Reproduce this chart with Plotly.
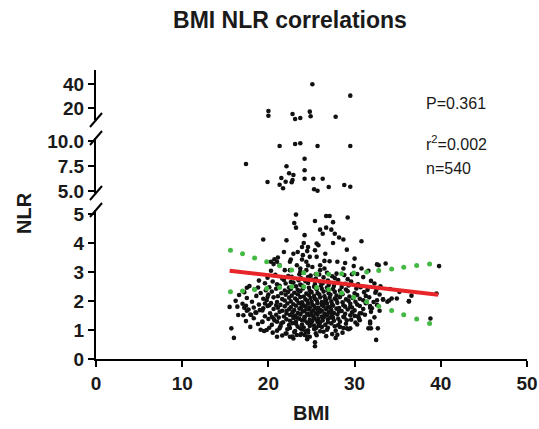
import plotly.graph_objects as go

# ---------------- data ----------------
# points in the upper broken segments (NLR > 5)
bmi_high = [25.1, 29.5, 20.0, 20.0, 22.8, 23.1, 23.7, 24.8, 24.9, 27.8,
            21.3, 23.1, 23.7, 25.7, 29.5, 17.4, 24.2, 22.1, 24.2, 22.4,
            22.9, 21.5, 24.2, 25.2, 26.3, 19.9, 22.0, 22.8, 22.7, 21.3,
            21.7, 25.3, 25.7, 27.0, 28.8, 29.5]
nlr_high = [40.2, 30.5, 17.4, 13.4, 14.9, 10.6, 11.5, 16.9, 13.0, 12.6,
            9.5, 9.7, 9.77, 9.5, 9.5, 7.7, 8.23, 7.47, 7.07, 6.77,
            6.6, 6.3, 6.23, 6.23, 6.23, 5.9, 5.93, 6.1, 5.87, 5.63,
            5.27, 5.17, 5.03, 5.4, 5.6, 5.43]

# scattered points around the main cloud (NLR <= 5)
bmi_outer = [23.2, 26.7, 27.1, 29.2, 25.4, 23.0, 27.5, 23.2, 26.7, 26.0,
             27.3, 26.3, 27.7, 24.2, 19.4, 22.1, 28.2, 28.7, 30.8, 27.5,
             24.1, 25.6, 25.8, 24.6, 23.9, 29.1, 25.4, 24.5, 21.8, 22.9,
             23.4, 26.6, 24.0, 24.8, 25.6, 30.0, 28.0, 26.5, 27.1, 24.4,
             28.9, 23.9, 22.6, 20.7, 21.0, 20.3, 21.1, 22.5, 26.0, 25.1,
             29.9, 32.8, 32.6, 33.6, 39.8, 21.3, 23.3, 20.6, 24.6, 24.4,
             24.1, 26.0, 30.8, 31.6, 28.7, 26.5, 21.9, 22.5, 23.7, 20.3,
             26.8, 25.5, 27.9, 29.7, 23.7,
             15.5, 15.7, 16.0, 16.5, 17.2, 17.5, 18.0, 19.0, 19.4, 18.6,
             20.1, 20.4, 19.3, 19.8, 21.0, 21.3, 21.0, 22.1, 22.5, 23.3,
             24.2, 24.8, 17.4, 17.9, 19.6, 19.5, 20.6, 18.8, 17.5,
             28.3, 29.1, 29.5, 31.6, 32.5, 30.6, 31.8, 30.8, 30.0, 29.5,
             32.0, 31.4, 32.6, 32.5, 39.5, 33.3, 33.8, 34.3, 36.3, 31.8,
             32.3, 31.8, 31.9, 32.7, 38.8, 25.4, 25.4]
nlr_outer = [4.99, 4.94, 4.94, 4.89, 4.77, 4.70, 4.73, 4.54, 4.54, 4.47,
             4.47, 4.33, 4.33, 4.28, 4.13, 4.10, 4.20, 4.13, 4.07, 4.01,
             4.01, 3.99, 3.93, 3.87, 3.87, 3.78, 3.76, 3.73, 3.70, 3.64,
             3.70, 3.64, 3.59, 3.53, 3.53, 3.47, 3.36, 3.39, 3.38, 3.36,
             3.32, 3.44, 3.44, 3.45, 3.36, 3.36, 3.51, 3.36, 3.24, 3.18,
             3.21, 3.24, 3.27, 3.30, 3.21, 3.24, 3.24, 3.28, 3.23, 3.07,
             2.98, 3.07, 3.13, 3.05, 3.13, 3.13, 3.07, 3.07, 3.13, 3.05,
             2.98, 2.93, 2.95, 2.93, 3.01,
             1.80, 1.06, 0.73, 1.52, 1.77, 1.67, 1.52, 1.69, 1.75, 1.60,
             1.86, 1.46, 1.29, 1.00, 1.29, 1.06, 0.77, 0.88, 0.77, 0.83,
             0.83, 0.77, 1.84, 1.54, 1.92, 0.97, 1.40, 2.47, 2.46,
             1.11, 1.06, 1.06, 1.06, 0.66, 1.34, 1.29, 1.58, 1.49, 1.80,
             1.75, 1.98, 2.03, 2.36, 2.26, 2.06, 1.98, 2.09, 2.00, 1.83,
             1.44, 1.23, 1.06, 1.06, 1.40, 0.58, 0.44]

# dense main cloud, row by row
bmi_core = [
    20.8, 22.3, 23.6, 24.9, 25.9, 27.4, 28.8, 30.3,
    19.9, 21.6, 22.7, 23.8, 24.6, 25.5, 26.4, 27.7, 29.2, 31.0,
    18.9, 20.5, 21.8, 22.6, 23.5, 24.3, 25.1, 26.0, 26.9, 28.1, 29.6, 31.9,
    19.6, 21.0, 22.0, 22.9, 23.7, 24.6, 25.4, 26.3, 27.0, 27.8, 28.9, 30.4, 32.3,
    17.8, 20.1, 21.3, 22.4, 23.2, 23.9, 24.7, 25.3, 26.1, 26.8, 27.6, 28.5, 29.3, 30.7, 33.0,
    18.4, 19.7, 20.9, 21.9, 22.6, 23.4, 24.0, 24.8, 25.6, 26.2, 26.9, 27.5, 28.3, 29.0, 30.2, 31.5, 34.1,
    17.2, 19.1, 20.4, 21.5, 22.3, 23.0, 23.7, 24.4, 25.0, 25.7, 26.4, 27.0, 27.7, 28.4, 29.2, 30.0, 31.1, 32.4, 35.2,
    16.6, 18.6, 20.0, 21.1, 22.0, 22.7, 23.4, 24.1, 24.7, 25.3, 25.9, 26.5, 27.2, 27.9, 28.6, 29.4, 30.3, 31.3, 32.9, 36.6,
    17.5, 19.4, 20.6, 21.6, 22.4, 23.1, 23.7, 24.3, 24.9, 25.4, 26.0, 26.6, 27.1, 27.7, 28.3, 29.0, 29.8, 30.6, 31.7, 33.3, 34.9, 19.9,
    16.2, 18.1, 19.8, 21.0, 21.9, 22.6, 23.3, 23.9, 24.5, 25.0, 25.6, 26.2, 26.7, 27.3, 27.9, 28.6, 29.3, 30.1, 31.0, 32.2, 34.0, 36.3,
    17.0, 18.9, 20.3, 21.4, 22.2, 22.9, 23.5, 24.1, 24.6, 25.1, 25.7, 26.2, 26.8, 27.4, 28.0, 28.7, 29.5, 30.3, 31.3, 32.6, 20.9, 23.8, 26.5,
    16.4, 18.3, 19.9, 21.1, 21.9, 22.6, 23.2, 23.8, 24.3, 24.8, 25.3, 25.8, 26.4, 26.9, 27.5, 28.2, 28.9, 29.7, 30.6, 31.8, 24.0, 25.5, 27.1,
    17.7, 19.3, 20.6, 21.6, 22.4, 23.0, 23.6, 24.2, 24.7, 25.2, 25.7, 26.2, 26.7, 27.3, 27.9, 28.5, 29.2, 30.0, 31.0, 32.9, 22.1, 24.5, 26.0,
    18.5, 20.2, 21.3, 22.1, 22.8, 23.4, 24.0, 24.5, 25.0, 25.5, 26.0, 26.5, 27.0, 27.6, 28.2, 28.9, 29.7, 30.6, 31.9, 23.7, 25.8, 27.3,
    17.1, 19.6, 20.9, 21.8, 22.5, 23.1, 23.7, 24.2, 24.7, 25.2, 25.7, 26.2, 26.8, 27.4, 28.0, 28.7, 29.5, 30.4, 31.2, 24.9, 26.5, 22.9,
    18.3, 20.0, 21.2, 22.1, 22.9, 23.6, 24.2, 24.8, 25.3, 25.8, 26.3, 26.9, 27.5, 28.1, 28.8, 29.6, 30.5, 23.3, 25.6, 27.2,
    17.4, 19.3, 20.7, 21.7, 22.5, 23.2, 23.9, 24.5, 25.1, 25.7, 26.3, 26.9, 27.6, 28.3, 29.1, 30.1, 24.2, 26.0,
    18.8, 20.4, 21.5, 22.4, 23.2, 23.9, 24.6, 25.3, 25.9, 26.6, 27.3, 28.1, 29.0, 30.3, 24.9, 22.8,
    17.9, 20.1, 21.4, 22.5, 23.4, 24.1, 24.8, 25.5, 26.2, 26.9, 27.7, 28.7, 23.7, 25.8,
    19.1, 21.0, 22.2, 23.1, 23.9, 24.6, 25.3, 26.0, 26.8, 27.8, 29.3, 24.3,
    20.5, 22.0, 23.0, 23.8, 24.6, 25.5, 26.4, 27.4, 28.6,
    21.6, 22.8, 23.7, 24.5, 25.6, 26.7, 28.0,
    22.9, 24.5, 27.8,
]
nlr_core = [
    2.91, 2.87, 2.93, 2.88, 2.92, 2.86, 2.90, 2.94,
    2.81, 2.78, 2.84, 2.79, 2.83, 2.77, 2.82, 2.80, 2.76, 2.83,
    2.71, 2.68, 2.73, 2.66, 2.72, 2.69, 2.74, 2.67, 2.71, 2.73, 2.68, 2.70,
    2.62, 2.58, 2.61, 2.64, 2.57, 2.63, 2.59, 2.62, 2.56, 2.63, 2.60, 2.58, 2.61,
    2.52, 2.48, 2.53, 2.47, 2.51, 2.54, 2.46, 2.50, 2.53, 2.47, 2.52, 2.49, 2.54, 2.48, 2.51,
    2.41, 2.38, 2.43, 2.37, 2.42, 2.39, 2.44, 2.36, 2.41, 2.43, 2.38, 2.42, 2.37, 2.40, 2.44, 2.39, 2.42,
    2.31, 2.28, 2.33, 2.27, 2.32, 2.29, 2.34, 2.26, 2.31, 2.28, 2.33, 2.27, 2.32, 2.29, 2.34, 2.27, 2.31, 2.29, 2.32,
    2.21, 2.18, 2.23, 2.17, 2.22, 2.19, 2.24, 2.16, 2.21, 2.18, 2.23, 2.17, 2.22, 2.19, 2.24, 2.16, 2.21, 2.18, 2.23, 2.19,
    2.11, 2.08, 2.13, 2.07, 2.12, 2.09, 2.14, 2.06, 2.11, 2.08, 2.13, 2.07, 2.12, 2.09, 2.14, 2.06, 2.11, 2.08, 2.13, 2.06, 2.09, 2.14,
    2.01, 1.98, 2.03, 1.97, 2.02, 1.99, 2.04, 1.96, 2.01, 1.98, 2.03, 1.97, 2.02, 1.99, 2.04, 1.96, 2.01, 1.98, 2.03, 1.97, 2.02, 1.99,
    1.91, 1.88, 1.93, 1.87, 1.92, 1.89, 1.94, 1.86, 1.91, 1.88, 1.93, 1.87, 1.92, 1.89, 1.94, 1.86, 1.91, 1.88, 1.93, 1.87, 1.86, 1.90, 1.94,
    1.81, 1.78, 1.83, 1.77, 1.82, 1.79, 1.84, 1.76, 1.81, 1.78, 1.83, 1.77, 1.82, 1.79, 1.84, 1.76, 1.81, 1.78, 1.83, 1.77, 1.84, 1.76, 1.79,
    1.71, 1.68, 1.73, 1.67, 1.72, 1.69, 1.74, 1.66, 1.71, 1.68, 1.73, 1.67, 1.72, 1.69, 1.74, 1.66, 1.71, 1.68, 1.73, 1.67, 1.66, 1.74, 1.69,
    1.61, 1.58, 1.63, 1.57, 1.62, 1.59, 1.64, 1.56, 1.61, 1.58, 1.63, 1.57, 1.62, 1.59, 1.64, 1.56, 1.61, 1.58, 1.63, 1.56, 1.64, 1.57,
    1.51, 1.48, 1.53, 1.47, 1.52, 1.49, 1.54, 1.46, 1.51, 1.48, 1.53, 1.47, 1.52, 1.49, 1.54, 1.46, 1.51, 1.48, 1.53, 1.54, 1.46, 1.48,
    1.41, 1.38, 1.43, 1.37, 1.42, 1.39, 1.44, 1.36, 1.41, 1.38, 1.43, 1.37, 1.42, 1.39, 1.44, 1.36, 1.41, 1.43, 1.36, 1.44,
    1.31, 1.28, 1.33, 1.27, 1.32, 1.29, 1.34, 1.26, 1.31, 1.28, 1.33, 1.27, 1.32, 1.29, 1.34, 1.26, 1.33, 1.27,
    1.21, 1.18, 1.23, 1.17, 1.22, 1.19, 1.24, 1.16, 1.21, 1.18, 1.23, 1.17, 1.22, 1.19, 1.23, 1.24,
    1.11, 1.08, 1.13, 1.07, 1.12, 1.09, 1.14, 1.06, 1.11, 1.08, 1.13, 1.07, 1.06, 1.14,
    1.01, 0.98, 1.03, 0.97, 1.02, 0.99, 1.04, 0.96, 1.01, 0.98, 1.03, 0.96,
    0.91, 0.88, 0.93, 0.87, 0.92, 0.89, 0.94, 0.86, 0.91,
    0.81, 0.78, 0.83, 0.77, 0.82, 0.79, 0.84,
    0.71, 0.68, 0.73,
]

# regression line and 95% confidence band
reg_bmi = [15.5, 39.7]
reg_nlr = [3.05, 2.22]
ci_bmi = [15.6, 17.0, 18.4, 19.8, 21.3, 22.7, 24.1, 25.6, 27.0, 28.5,
          29.9, 31.4, 32.8, 34.3, 35.7, 37.2, 38.7]
ci_upper = [3.76, 3.64, 3.49, 3.36, 3.22, 3.08, 2.98, 2.94, 2.93, 2.95,
            2.97, 3.01, 3.06, 3.11, 3.17, 3.23, 3.28]
ci_lower = [2.32, 2.35, 2.40, 2.44, 2.47, 2.50, 2.50, 2.47, 2.40, 2.28,
            2.13, 1.98, 1.82, 1.68, 1.53, 1.38, 1.23]

x_ticks = [0, 10, 20, 30, 40, 50]
y_low_ticks = [0, 1, 2, 3, 4, 5]
y_mid_ticks = [5, 7.5, 10]
y_mid_text = ["5.0", "7.5", "10.0"]
y_top_ticks = [20, 40]

stats_lines = ["P=0.361", "r<sup>2</sup>=0.002", "n=540"]

# ---------------- figure ----------------
FONT = "Liberation Sans, Arial, sans-serif"
LOW_MAX, MID_MIN, MID_MAX, TOP_MIN = 5.15, 4.8, 10.3, 9.8

all_bmi = bmi_high + bmi_outer + bmi_core
all_nlr = nlr_high + nlr_outer + nlr_core

low = [(b, v) for b, v in zip(all_bmi, all_nlr) if v <= 5.0]
mid = [(b, v) for b, v in zip(all_bmi, all_nlr) if 5.0 < v <= 10.0]
top = [(b, v) for b, v in zip(all_bmi, all_nlr) if v > 10.0]

dot = dict(color="#111111", size=4.6)
fig = go.Figure()
fig.add_trace(go.Scatter(x=[p[0] for p in low], y=[p[1] for p in low], mode="markers",
                         marker=dot, yaxis="y", cliponaxis=False))
fig.add_trace(go.Scatter(x=[p[0] for p in mid], y=[p[1] for p in mid], mode="markers",
                         marker=dot, yaxis="y2", cliponaxis=False))
fig.add_trace(go.Scatter(x=[p[0] for p in top], y=[p[1] for p in top], mode="markers",
                         marker=dot, yaxis="y3", cliponaxis=False))
green = dict(color="#45b945", size=5)
fig.add_trace(go.Scatter(x=ci_bmi, y=ci_upper, mode="markers", marker=green, yaxis="y"))
fig.add_trace(go.Scatter(x=ci_bmi, y=ci_lower, mode="markers", marker=green, yaxis="y"))
fig.add_trace(go.Scatter(x=reg_bmi, y=reg_nlr, mode="lines",
                         line=dict(color="#e8262a", width=4), yaxis="y"))

axis_common = dict(showline=True, linecolor="black", linewidth=2, ticks="outside",
                   ticklen=6, tickwidth=2, tickcolor="black", showgrid=False, zeroline=False,
                   automargin=False,
                   tickfont=dict(family=FONT, size=19, color="#1a1a1a", weight="bold"))

D_LOW = (0.0, 0.5156)
D_MID = (0.5744, 0.7647)
D_TOP = (0.827, 1.0)

fig.update_layout(
    width=539, height=429,
    margin=dict(l=96, r=12, t=70, b=70, autoexpand=False),
    paper_bgcolor="white", plot_bgcolor="white",
    showlegend=False,
    title=dict(text="<b>BMI NLR correlations</b>", x=0.538, xanchor="center",
               y=1 - 20 / 429, yanchor="middle",
               font=dict(family=FONT, size=23, color="#1a1a1a")),
    xaxis=dict(range=[0, 50], tickvals=x_ticks, anchor="y", domain=[0, 1], **axis_common),
    yaxis=dict(range=[0, LOW_MAX], domain=list(D_LOW), tickvals=y_low_ticks, anchor="x",
               **axis_common),
    yaxis2=dict(range=[MID_MIN, MID_MAX], domain=list(D_MID), tickvals=y_mid_ticks,
                ticktext=y_mid_text, anchor="x", **axis_common),
    yaxis3=dict(range=[TOP_MIN, 52.3], domain=list(D_TOP), tickvals=y_top_ticks,
                anchor="x", **axis_common),
)

# axis break slashes
for yb in [D_LOW[1], D_MID[0], D_MID[1], D_TOP[0]]:
    fig.add_shape(type="line", xref="paper", yref="paper", xsizemode="pixel",
                  ysizemode="pixel", xanchor=0, yanchor=yb, x0=-6, x1=6, y0=-7, y1=7,
                  line=dict(color="black", width=2))

# stats text
for txt, ypx in zip(stats_lines, [103, 143, 168]):
    fig.add_annotation(text=txt, xref="paper", yref="paper", x=(424 - 96) / 431,
                       y=(359 - ypx) / 289, xanchor="left", yanchor="middle",
                       showarrow=False, font=dict(family=FONT, size=16, color="#1a1a1a"))

# axis titles
fig.add_annotation(text="<b>BMI</b>", xref="paper", yref="paper", x=0.5,
                   y=-(413 - 359) / 289, xanchor="center", yanchor="middle",
                   showarrow=False, font=dict(family=FONT, size=20, color="#1a1a1a"))
fig.add_annotation(text="<b>NLR</b>", xref="paper", yref="paper", x=(24 - 96) / 431,
                   y=(359 - 213) / 289, xanchor="center", yanchor="middle", textangle=-90,
                   showarrow=False, font=dict(family=FONT, size=20, color="#1a1a1a"))

fig.write_html("out.html", config={"displayModeBar": False},
               post_script="document.body.style.margin='0px';")
